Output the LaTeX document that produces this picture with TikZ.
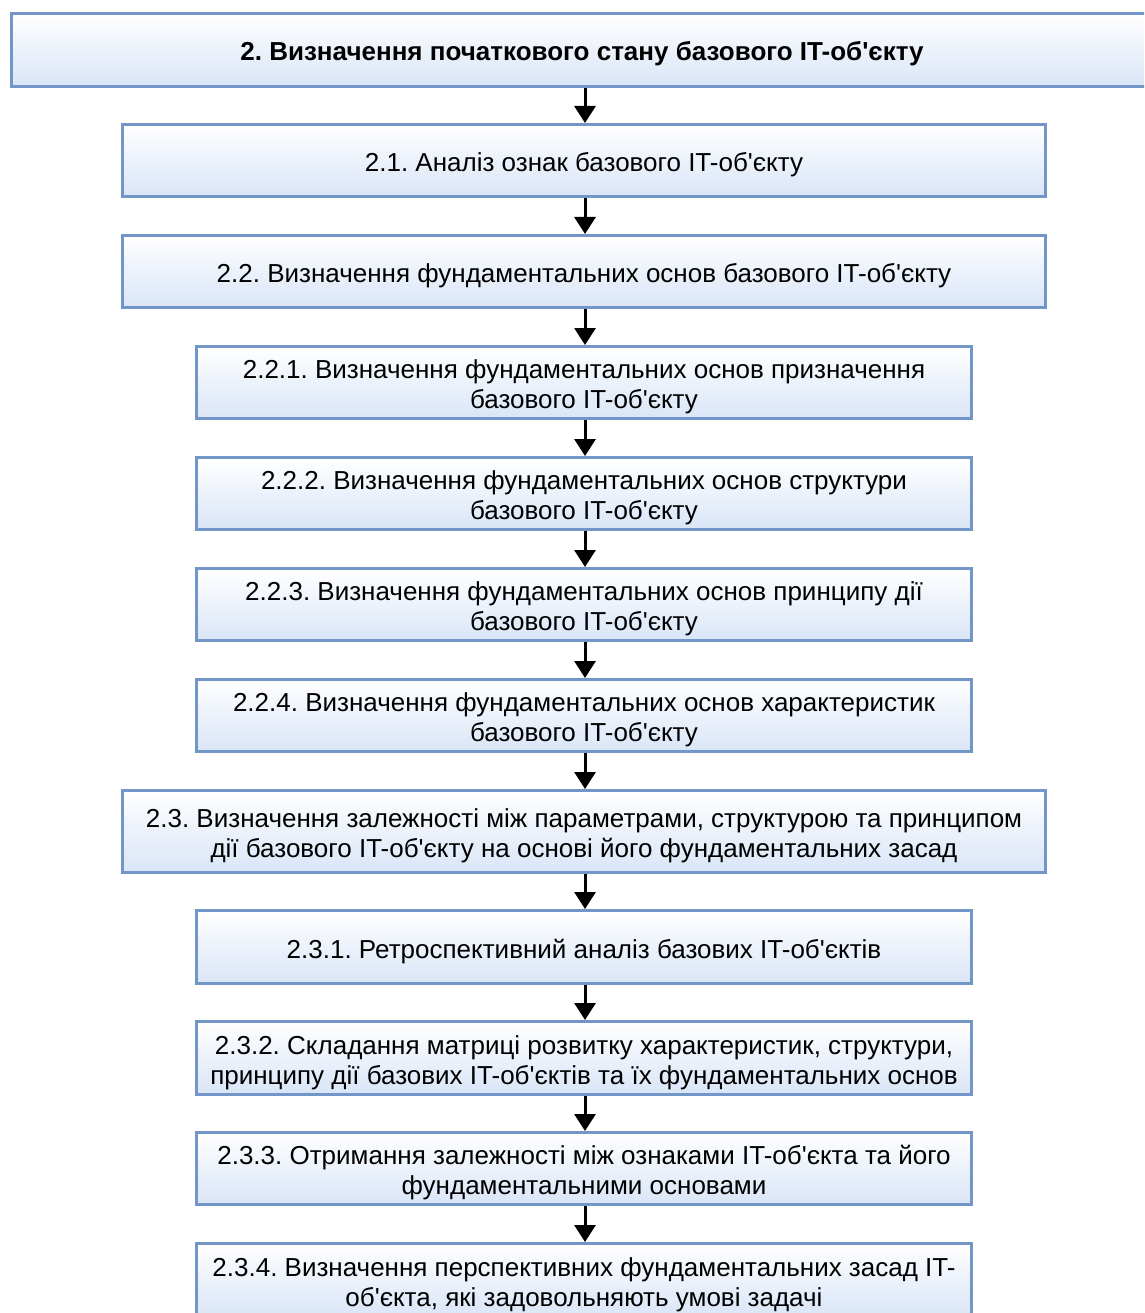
\documentclass[tikz,border=0pt]{standalone}
\usepackage{fontspec}
\setmainfont{Liberation Sans}[Ligatures=TeXOff]
\usetikzlibrary{arrows.meta}
\definecolor{boxborder}{HTML}{7396C8}
\definecolor{boxbottom}{HTML}{D9E5F7}
\newcommand\boxtext[1]{\raisebox{-5pt}[\height][\depth]{\begin{tabular}{@{}c@{}}#1\end{tabular}}}
\tikzset{
  stage/.style={draw=boxborder, line width=3pt, top color=white, bottom color=boxbottom,
    inner sep=0pt, font=\fontsize{26}{30}\selectfont},
  wide/.style={stage, minimum width=923pt, minimum height=72pt},
  narrow/.style={stage, minimum width=775pt, minimum height=72pt},
  flow/.style={line width=3pt, -{Triangle[width=21pt,length=17pt]}}
}
\frenchspacing
\begin{document}
\begin{tikzpicture}[x=1pt,y=-1pt]
\useasboundingbox (0,0) rectangle (1144,1313);
\clip (0,0) rectangle (1144,1313);
\node[stage, minimum width=1141pt, minimum height=73pt, font=\bfseries\fontsize{26}{30}\selectfont] (s2) at (582,50) {\boxtext{2. Визначення початкового стану базового IT-об'єкту}};
\node[wide] (s21) at (584,160.5) {\boxtext{2.1. Аналіз ознак базового IT-об'єкту}};
\node[wide] (s22) at (584,271.5) {\boxtext{2.2. Визначення фундаментальних основ базового IT-об'єкту}};
\node[narrow] (s221) at (584,382.5) {\boxtext{2.2.1. Визначення фундаментальних основ призначення\\базового IT-об'єкту}};
\node[narrow] (s222) at (584,493.5) {\boxtext{2.2.2. Визначення фундаментальних основ структури\\базового IT-об'єкту}};
\node[narrow] (s223) at (584,604.5) {\boxtext{2.2.3. Визначення фундаментальних основ принципу дії\\базового IT-об'єкту}};
\node[narrow] (s224) at (584,715.5) {\boxtext{2.2.4. Визначення фундаментальних основ характеристик\\базового IT-об'єкту}};
\node[wide, minimum height=82pt] (s23) at (584,831.5) {\boxtext{2.3. Визначення залежності між параметрами, структурою та принципом\\дії базового IT-об'єкту на основі його фундаментальних засад}};
\node[narrow, minimum height=73pt] (s231) at (584,947) {\boxtext{2.3.1. Ретроспективний аналіз базових IT-об'єктів}};
\node[narrow, minimum height=73pt] (s232) at (584,1058) {\boxtext{2.3.2. Складання матриці розвитку характеристик, структури,\\принципу дії базових IT-об'єктів та їх фундаментальних основ}};
\node[narrow] (s233) at (584,1168.5) {\boxtext{2.3.3. Отримання залежності між ознаками IT-об'єкта та його\\фундаментальними основами}};
\node[narrow, minimum height=73pt] (s234) at (584,1280) {\boxtext{2.3.4. Визначення перспективних фундаментальних засад IT-\\об'єкта, які задовольняють умові задачі}};
\foreach \a/\b in {s2/s21, s21/s22, s22/s221, s221/s222, s222/s223, s223/s224, s224/s23, s23/s231, s231/s232, s232/s233, s233/s234}
  \draw[flow] (\a.south -| 585,0) -- (\b.north -| 585,0);
\end{tikzpicture}
\end{document}
